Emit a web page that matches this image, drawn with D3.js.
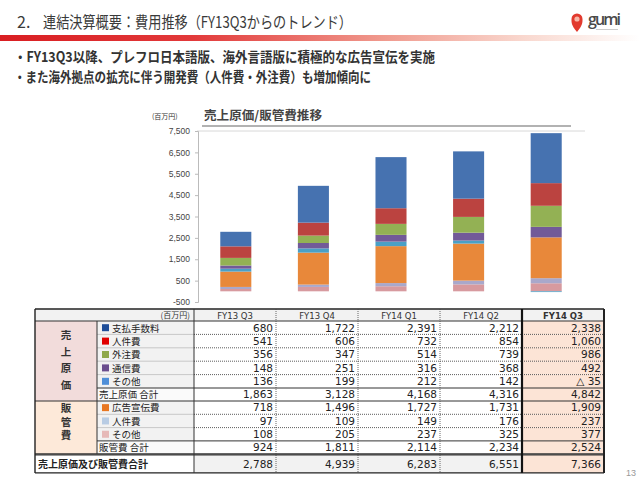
<!DOCTYPE html>
<html><head><meta charset="utf-8">
<script src="https://cdn.jsdelivr.net/npm/d3@7"></script>
<style>body{margin:0;background:#fff}svg{display:block}</style>
</head><body>
<script>
const categories = ["FY13 Q3","FY13 Q4","FY14 Q1","FY14 Q2","FY14 Q3"];
const cogsFees = [680,1722,2391,2212,2338];
const cogsPersonnel = [541,606,732,854,1060];
const cogsOutsourcing = [356,347,514,739,986];
const cogsComm = [148,251,316,368,492];
const cogsOther = [136,199,212,142,-35];
const cogsTotal = [1863,3128,4168,4316,4842];
const sgaAds = [718,1496,1727,1731,1909];
const sgaPersonnel = [97,109,149,176,237];
const sgaOther = [108,205,237,325,377];
const sgaTotal = [924,1811,2114,2234,2524];
const grandTotal = [2788,4939,6283,6551,7366];
const yTicks = [-500,500,1500,2500,3500,4500,5500,6500,7500];

const seriesKeys = ["sgaOther","sgaPersonnel","sgaAds","cogsOther","cogsComm","cogsOutsourcing","cogsPersonnel","cogsFees"];
const seriesValues = {sgaOther, sgaPersonnel, sgaAds, cogsOther, cogsComm, cogsOutsourcing, cogsPersonnel, cogsFees};
const barColors = {cogsFees:"#4672B0", cogsPersonnel:"#BB4340", cogsOutsourcing:"#93B154", cogsComm:"#725A98",
  cogsOther:"#4AA0C6", sgaAds:"#E8883A", sgaPersonnel:"#A9A8CB", sgaOther:"#D79A9F"};

const svg = d3.select("body").append("svg").attr("width",640).attr("height",479)
  .style("font-family","'Noto Sans CJK JP','Noto Sans',sans-serif");
const defs = svg.append("defs");

// ---------- header ----------
const g1 = defs.append("linearGradient").attr("id","redbar");
[[0,"#D91E22"],[0.3,"#E2393A"],[0.6,"#F09A8E"],[0.82,"#F9D8CF"],[1,"#FFFFFF"]].forEach(s=>
  g1.append("stop").attr("offset",s[0]).attr("stop-color",s[1]));
svg.append("rect").attr("x",0).attr("y",35).attr("width",640).attr("height",6).attr("fill","url(#redbar)");

svg.append("text").attr("x",17).attr("y",28).attr("font-size",16).attr("fill","#3a3a3a").text("2.");
svg.append("text").attr("x",43).attr("y",28).attr("font-size",16).attr("fill","#3a3a3a")
  .attr("textLength",309).attr("lengthAdjust","spacingAndGlyphs")
  .text("連結決算概要：費用推移（FY13Q3からのトレンド）");

// logo
svg.append("path").attr("d","M577,32 C571,25 571.5,22 571.5,19 A5.5,5.5 0 1 1 582.5,19 C582.5,22 583,25 577,32 Z").attr("fill","#E23A2E");
svg.append("circle").attr("cx",577).attr("cy",19).attr("r",2.6).attr("fill","#F7B7A8");
svg.append("text").attr("x",588).attr("y",25).attr("font-size",16).attr("font-weight",600).attr("fill","#4a4a4a")
  .style("font-family","'Open Sans',sans-serif").attr("textLength",33).text("gumi");
svg.append("rect").attr("x",596).attr("y",29).attr("width",22).attr("height",1).attr("fill","#ccc");

// bullets
svg.append("text").attr("x",14).attr("y",62).attr("font-size",14).attr("font-weight","bold").attr("fill","#333")
  .attr("textLength",421).attr("lengthAdjust","spacingAndGlyphs")
  .text("・FY13Q3以降、プレフロ日本語版、海外言語版に積極的な広告宣伝を実施");
svg.append("text").attr("x",14).attr("y",82).attr("font-size",14).attr("font-weight","bold").attr("fill","#333")
  .attr("textLength",357).attr("lengthAdjust","spacingAndGlyphs")
  .text("・また海外拠点の拡充に伴う開発費（人件費・外注費）も増加傾向に");

// ---------- chart ----------
svg.append("text").attr("x",204).attr("y",120).attr("font-size",12.5).attr("font-weight","bold").attr("fill","#444")
  .attr("textLength",118).attr("lengthAdjust","spacingAndGlyphs").text("売上原価/販管費推移");
svg.append("text").attr("x",152).attr("y",119).attr("font-size",7).attr("fill","#333").text("(百万円)");
svg.append("line").attr("x1",202).attr("x2",571).attr("y1",126).attr("y2",126).attr("stroke","#666").attr("stroke-width",1.2);
svg.append("line").attr("x1",197).attr("x2",585).attr("y1",131).attr("y2",131).attr("stroke","#d8d8d8").attr("stroke-width",1);

const x = d3.scaleBand().domain(categories).range([197,585]).paddingInner(0.6).paddingOuter(0.3);
const y = d3.scaleLinear().domain([-500,7500]).range([302,131]);

const tickFmt = v => (v<0?"-":"") + d3.format(",")(Math.abs(v));
const yAxis = svg.append("g").attr("transform","translate(198,0)")
  .call(d3.axisLeft(y).tickValues(yTicks).tickSize(3).tickFormat(tickFmt));
yAxis.select(".domain").attr("stroke","#bbb");
yAxis.selectAll(".tick line").attr("stroke","#bbb");
yAxis.selectAll(".tick text").attr("font-size",8.5).attr("fill","#444").attr("x",-8)
  .style("font-family","'Liberation Sans',Arial,sans-serif");

const stackRows = categories.map((c,i)=>{const o={cat:c}; seriesKeys.forEach(k=>o[k]=seriesValues[k][i]); return o;});
const stacked = d3.stack().keys(seriesKeys).offset(d3.stackOffsetDiverging)(stackRows);
svg.append("g").selectAll("g").data(stacked).join("g").attr("fill",d=>barColors[d.key])
  .selectAll("rect").data(d=>d).join("rect")
  .attr("x",d=>x(d.data.cat)).attr("width",x.bandwidth())
  .attr("y",d=>y(Math.max(d[0],d[1]))).attr("height",d=>Math.abs(y(d[0])-y(d[1])));

// ---------- table ----------
const fmt = v => v<0 ? "△ "+d3.format(",")(-v) : d3.format(",")(v);
const tableRows = [
  {type:"header", h:12},
  {type:"item", sec:"cogs", label:"支払手数料", values:cogsFees, marker:"#1F4E99", h:13.4},
  {type:"item", sec:"cogs", label:"人件費", values:cogsPersonnel, marker:"#E00000", h:13.4},
  {type:"item", sec:"cogs", label:"外注費", values:cogsOutsourcing, marker:"#8FA84A", h:13.4},
  {type:"item", sec:"cogs", label:"通信費", values:cogsComm, marker:"#6B4E8E", h:13.4},
  {type:"item", sec:"cogs", label:"その他", values:cogsOther, marker:"#4F8FD8", h:13.4},
  {type:"sub", sec:"cogs", label:"売上原価 合計", values:cogsTotal, h:13},
  {type:"item", sec:"sga", label:"広告宣伝費", values:sgaAds, marker:"#E87722", h:13.3},
  {type:"item", sec:"sga", label:"人件費", values:sgaPersonnel, marker:"#B8CCE4", h:13.3},
  {type:"item", sec:"sga", label:"その他", values:sgaOther, marker:"#E6B9B8", h:13.3},
  {type:"sub", sec:"sga", label:"販管費 合計", values:sgaTotal, h:13},
  {type:"gap", h:1},
  {type:"total", label:"売上原価及び販管費合計", values:grandTotal, h:18}
];
let yy = 309;
tableRows.forEach(r=>{r.y=yy; yy+=r.h;});
const L=35, C1=97, C2=194, R=604;
const cx = d3.scaleBand().domain(categories).range([C2,R]);
const last = categories[categories.length-1];
const tg = svg.append("g");

// fills
tableRows.forEach(r=>{
  if(r.type==="gap") return;
  if(r.type==="header"){
    tg.append("rect").attr("x",L).attr("y",r.y).attr("width",R-L).attr("height",r.h).attr("fill","#F2F2F2");
    return;
  }
  if(r.type==="item"||r.type==="sub"){
    tg.append("rect").attr("x",C1).attr("y",r.y).attr("width",C2-C1).attr("height",r.h).attr("fill",r.type==="item"?"#F2F2F2":"#FAFAFA");
  }
  categories.forEach(c=>{
    let f = r.type==="total" ? "#F2F2F2" : "#FFFFFF";
    if(c===last) f="#FCE4D6";
    tg.append("rect").attr("x",cx(c)).attr("y",r.y).attr("width",cx.bandwidth()).attr("height",r.h).attr("fill",f);
  });
});
const secSpan = sec => { const rs=tableRows.filter(r=>r.sec===sec); return [rs[0].y, rs[rs.length-1].y+rs[rs.length-1].h]; };
const [cy0,cy1] = secSpan("cogs"), [sy0,sy1] = secSpan("sga");
tg.append("rect").attr("x",L).attr("y",cy0).attr("width",C1-L).attr("height",cy1-cy0).attr("fill","#F2DCDB");
tg.append("rect").attr("x",L).attr("y",sy0).attr("width",C1-L).attr("height",sy1-sy0).attr("fill","#FDE9D9");

// lines
const hl = (x1,x2,yv,st,w,dash)=>tg.append("line").attr("x1",x1).attr("x2",x2).attr("y1",yv).attr("y2",yv)
  .attr("stroke",st).attr("stroke-width",w||1).attr("stroke-dasharray",dash||null);
const vl = (xv,y1,y2,st,w,dash)=>tg.append("line").attr("x1",xv).attr("x2",xv).attr("y1",y1).attr("y2",y2)
  .attr("stroke",st).attr("stroke-width",w||1).attr("stroke-dasharray",dash||null);
tableRows.forEach((r,i)=>{
  if(r.type==="item"){
    const nxt = tableRows[i+1];
    if(nxt.type==="item"){
      hl(C1,C2,r.y+r.h,"#bbb",0.8);
      hl(C2,R,r.y+r.h,"#333",0.8,"1,1");
    } else {
      hl(C1,R,r.y+r.h,"#333",1);
    }
  }
});
const headerRow = tableRows[0], totalRow = tableRows[tableRows.length-1];
hl(L,R,headerRow.y+headerRow.h,"#333",1);
hl(L,R,cy1,"#333",1);
hl(L,R,sy1,"#333",1.2);
hl(L,R,totalRow.y,"#333",1.2);
hl(L,R,309,"#222",1.4);
hl(L,R,totalRow.y+totalRow.h,"#222",1.4);
vl(L,309,totalRow.y+totalRow.h,"#222",1.4);
vl(R,309,totalRow.y+totalRow.h,"#222",2);
vl(C1,cy0,sy1,"#333",1);
vl(C2,309,totalRow.y+totalRow.h,"#333",1);
categories.slice(1).forEach(c=>{
  if(c===last) vl(cx(c),309,totalRow.y+totalRow.h,"#111",2.2);
  else vl(cx(c),309,totalRow.y+totalRow.h,"#444",0.8,"1,1");
});

// texts
const numFont = "'DejaVu Sans',Verdana,sans-serif";
tg.append("text").attr("x",C2-4).attr("y",headerRow.y+9).attr("text-anchor","end").attr("font-size",8).attr("fill","#333").text("(百万円)");
categories.forEach(c=>{
  tg.append("text").attr("x",cx(c)+cx.bandwidth()/2).attr("y",headerRow.y+9.5).attr("text-anchor","middle")
    .attr("font-size",8.5).attr("font-weight",c===last?"bold":"normal").attr("fill","#333")
    .style("font-family",numFont).text(c);
});
tableRows.forEach(r=>{
  if(!r.values) return;
  const base = r.y + r.h/2 + 3.8;
  if(r.type==="item"){
    tg.append("rect").attr("x",102).attr("y",r.y+r.h/2-3.5).attr("width",7).attr("height",7).attr("fill",r.marker);
    tg.append("text").attr("x",112).attr("y",base).attr("font-size",9.5).attr("fill","#222").text(r.label);
  } else if(r.type==="sub"){
    tg.append("text").attr("x",99).attr("y",base).attr("font-size",9.5).attr("fill","#222").text(r.label);
  } else if(r.type==="total"){
    tg.append("text").attr("x",38).attr("y",base).attr("font-size",10).attr("font-weight","bold").attr("fill","#222").text(r.label);
  }
  r.values.forEach((v,i)=>{
    tg.append("text").attr("x",cx(categories[i])+cx.bandwidth()-3).attr("y",base).attr("text-anchor","end")
      .attr("font-size",10.5).attr("fill","#222").style("font-family",numFont).text(fmt(v));
  });
});
const vert = (chars,y0,step)=>{
  const t = tg.append("text").attr("text-anchor","middle").attr("font-size",10.5).attr("font-weight","bold").attr("fill","#333");
  chars.forEach((ch,i)=>t.append("tspan").attr("x",(L+C1)/2).attr("y",y0+i*step).text(ch));
};
vert(["売","上","原","価"],339,16.5);
vert(["販","管","費"],412,13.5);

svg.append("text").attr("x",631).attr("y",476).attr("text-anchor","middle").attr("font-size",9).attr("fill","#999")
  .style("font-family","'Liberation Sans',Arial,sans-serif").text("13");
</script>
</body></html>
